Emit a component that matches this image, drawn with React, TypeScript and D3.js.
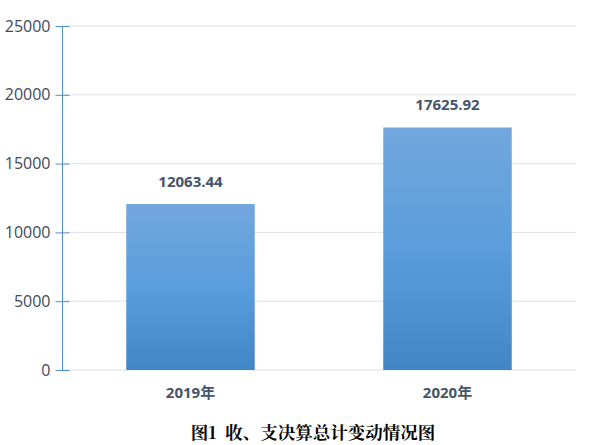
import React, { useEffect, useRef } from "react";
import * as d3 from "d3";

const categories = ["2019年", "2020年"];
const values = [12063.44, 17625.92];
const yTicks = [0, 5000, 10000, 15000, 20000, 25000];
const title = "图1  收、支决算总计变动情况图";

export default function App() {
  const svgRef = useRef<SVGSVGElement>(null);

  useEffect(() => {
    const width = 596;
    const height = 445;
    const margin = { top: 26, right: 20, bottom: 75, left: 62 };

    const svg = d3.select(svgRef.current);
    svg.selectAll("*").remove();
    svg.attr("width", width).attr("height", height);

    const x = d3
      .scaleBand<string>()
      .domain(categories)
      .range([margin.left, width - margin.right])
      .paddingInner(0.5)
      .paddingOuter(0.25);
    const y = d3
      .scaleLinear()
      .domain([0, 25000])
      .range([height - margin.bottom, margin.top]);

    const grad = svg
      .append("defs")
      .append("linearGradient")
      .attr("id", "barGrad")
      .attr("x1", 0)
      .attr("y1", 0)
      .attr("x2", 0)
      .attr("y2", 1);
    grad.append("stop").attr("offset", "0%").attr("stop-color", "#72a7dc");
    grad.append("stop").attr("offset", "50%").attr("stop-color", "#5a9ddd");
    grad.append("stop").attr("offset", "100%").attr("stop-color", "#4386c6");

    // gridlines
    svg
      .append("g")
      .selectAll("line")
      .data(yTicks)
      .join("line")
      .attr("x1", margin.left)
      .attr("x2", width - margin.right)
      .attr("y1", (d) => y(d))
      .attr("y2", (d) => y(d))
      .attr("stroke", "#dfe1e8")
      .attr("stroke-width", 1);

    // bars
    svg
      .append("g")
      .selectAll("rect")
      .data(values)
      .join("rect")
      .attr("x", (_, i) => x(categories[i])!)
      .attr("width", x.bandwidth())
      .attr("y", (d) => y(d))
      .attr("height", (d) => y(0) - y(d))
      .attr("fill", "url(#barGrad)");

    // value labels
    svg
      .append("g")
      .selectAll("text")
      .data(values)
      .join("text")
      .attr("x", (_, i) => x(categories[i])! + x.bandwidth() / 2)
      .attr("y", (d) => y(d) - 17)
      .attr("text-anchor", "middle")
      .attr("font-family", "'Open Sans', 'DejaVu Sans', sans-serif")
      .attr("font-weight", "bold")
      .attr("font-size", 15)
      .attr("fill", "#44546a")
      .text((d) => d.toFixed(2));

    // y axis
    const yAxis = d3
      .axisLeft(y)
      .tickValues(yTicks)
      .tickSize(7)
      .tickPadding(5)
      .tickFormat((d) => String(d));
    const gy = svg
      .append("g")
      .attr("transform", `translate(${margin.left + 0.5},0)`)
      .call(yAxis);
    gy.select(".domain").attr("stroke", "#4a90d6").attr("d", `M0,${y(25000)}V${y(0)}`);
    gy.selectAll(".tick line").attr("stroke", "#4a90d6").attr("x1", 7);
    gy.selectAll(".tick text")
      .attr("font-family", "'Open Sans', 'DejaVu Sans', sans-serif")
      .attr("font-size", 16)
      .attr("fill", "#404a5a");

    // category labels
    svg
      .append("g")
      .selectAll("text")
      .data(categories)
      .join("text")
      .attr("x", (d) => x(d)! + x.bandwidth() / 2)
      .attr("y", y(0) + 28)
      .attr("text-anchor", "middle")
      .attr("font-family", "'Open Sans', 'Noto Sans CJK SC', sans-serif")
      .attr("font-weight", "bold")
      .attr("font-size", 15)
      .attr("fill", "#44546a")
      .text((d) => d);

    // title
    svg
      .append("text")
      .attr("x", 313)
      .attr("y", 439)
      .attr("text-anchor", "middle")
      .attr("font-family", "'Noto Serif CJK SC', 'Noto Sans CJK SC', serif")
      .attr("font-weight", "bold")
      .attr("font-size", 17.5)
      .attr("fill", "#000")
      .attr("xml:space", "preserve")
      .style("white-space", "pre")
      .text(title);
  }, []);

  return (
    <div style={{ position: "absolute", left: 0, top: 0 }}>
      <svg ref={svgRef}></svg>
    </div>
  );
}
